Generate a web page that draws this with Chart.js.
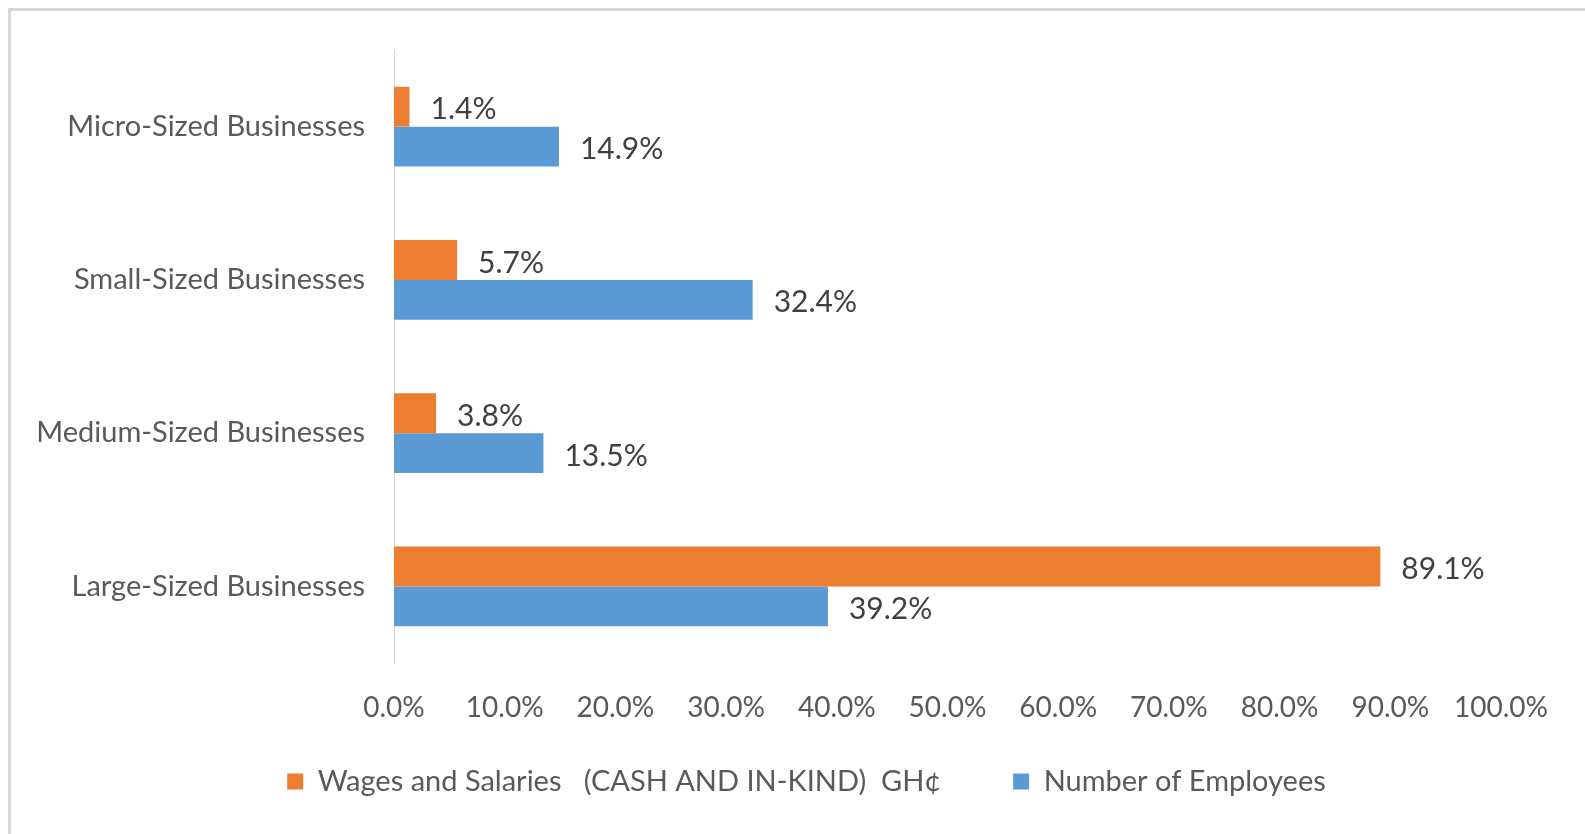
<!DOCTYPE html>
<html>
<head>
<meta charset="utf-8">
<script src="https://cdn.jsdelivr.net/npm/chart.js@4.4.1/dist/chart.umd.min.js"></script>
<style>
    html, body { margin: 0; padding: 0; background: #fff; overflow: hidden; }
    #wrap { position: relative; width: 1585px; height: 834px; }
    #frame { position: absolute; left: 8px; top: 8px; width: 1700px; height: 900px;
             border-top: 3px solid #d9d9d9; border-left: 3px solid #d9d9d9; pointer-events: none; }
    canvas { position: absolute; left: 0; top: 0; }
</style>
</head>
<body>
<div id="wrap">
    <canvas id="chart" width="1585" height="834"></canvas>
    <div id="frame"></div>
</div>
<script>
"use strict";

const categories = ["Micro-Sized Businesses", "Small-Sized Businesses", "Medium-Sized Businesses", "Large-Sized Businesses"];
const wages = [1.4, 5.7, 3.8, 89.1];
const employees = [14.9, 32.4, 13.5, 39.2];
const seriesNames = ["Wages and Salaries   (CASH AND IN-KIND)  GH\u00a2", "Number of Employees"];
const xMin = 0;
const xMax = 100;
const xStep = 10;

const FONT = "Lato";
const AXIS_COLOR = "#595959";

const valueLabels = {
    id: "valueLabels",
    afterDatasetsDraw(chart) {
        const ctx = chart.ctx;
        ctx.save();
        ctx.font = "30px " + FONT;
        ctx.fillStyle = "#404040";
        ctx.textAlign = "left";
        ctx.textBaseline = "middle";
        chart.data.datasets.forEach((ds, i) => {
            const meta = chart.getDatasetMeta(i);
            meta.data.forEach((bar, j) => {
                ctx.fillText(ds.data[j].toFixed(1) + "%", bar.x + 21, bar.y + 3);
            });
        });
        ctx.restore();
    }
};

// legend padding is big for the gap between the two items, so move the box back into place
const legendShift = {
    id: "legendShift",
    afterLayout(chart) {
        const up = 30;
        const right = 56;
        chart.legend.top -= up;
        chart.legend.bottom -= up;
        chart.legend.left += right;
        chart.legend.right += right;
    }
};

function buildData() {
    return {
        labels: categories,
        datasets: [
            {
                label: seriesNames[0],
                data: wages,
                backgroundColor: "#ED7D31"
            },
            {
                label: seriesNames[1],
                data: employees,
                backgroundColor: "#5B9BD5"
            }
        ]
    };
}

function getX() {
    return {
        min: xMin,
        max: xMax,
        afterFit(scale) {
            scale.height = 62;
        },
        grid: {display: false, drawTicks: false},
        border: {display: false},
        ticks: {
            stepSize: xStep,
            autoSkip: false,
            padding: 28,
            maxRotation: 0,
            color: AXIS_COLOR,
            font: {family: FONT, size: 28},
            callback: v => v.toFixed(1) + "%"
        }
    };
}

function getY() {
    return {
        afterFit(scale) {
            scale.width = 394;
        },
        grid: {display: false, drawTicks: false},
        border: {display: true, color: "#d9d9d9", width: 1},
        ticks: {
            padding: 29,
            color: AXIS_COLOR,
            font: {family: FONT, size: 29}
        }
    };
}

function getOptions() {
    return {
        indexAxis: "y",
        responsive: false,
        animation: false,
        datasets: {
            bar: {categoryPercentage: 0.52, barPercentage: 1}
        },
        layout: {
            padding: {top: 50, right: 84, left: 0, bottom: -2}
        },
        scales: {
            x: getX(),
            y: getY()
        },
        plugins: {
            legend: {
                position: "bottom",
                labels: {
                    boxWidth: 16,
                    boxHeight: 16,
                    padding: 72,
                    color: AXIS_COLOR,
                    font: {family: FONT, size: 29}
                }
            },
            tooltip: {enabled: false}
        }
    };
}

function barChart() {
    const ctx = document.querySelector("#chart").getContext("2d");
    new Chart(ctx, {
        type: "bar",
        data: buildData(),
        options: getOptions(),
        plugins: [valueLabels, legendShift]
    });
}

barChart();
</script>
</body>
</html>
